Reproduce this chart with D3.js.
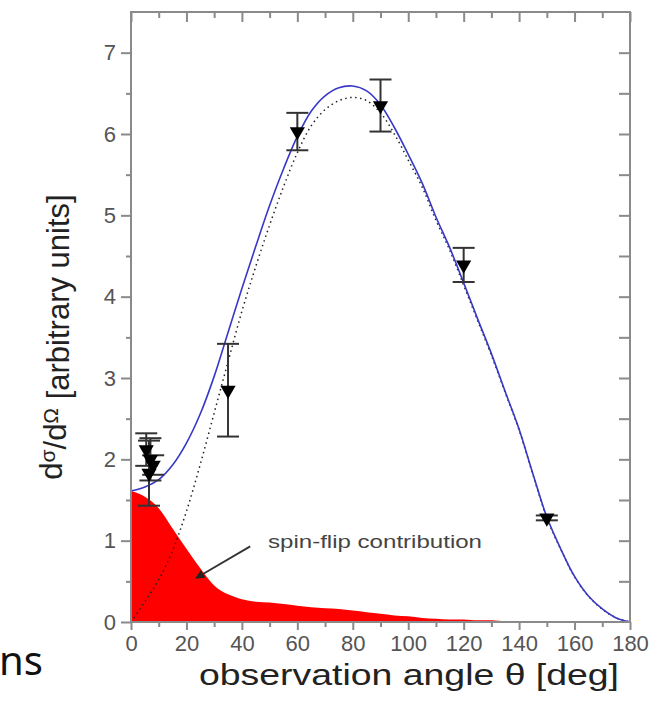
<!DOCTYPE html>
<html>
<head>
<meta charset="utf-8">
<script src="https://cdn.jsdelivr.net/npm/d3@7"></script>
<style>
  html, body { margin: 0; padding: 0; background: #fff; }
  svg { display: block; }
  text { font-family: "Liberation Sans", Arial, sans-serif; }
</style>
</head>
<body>
<svg id="chart" width="662" height="701"></svg>
<script>
// Angular grid (deg) shared by the model curves
const angles = [0,5,10,15,20,25,30,35,40,45,50,55,60,65,70,75,80,85,90,95,100,105,110,115,120,125,130,135,140,145,150,155,160,165,170,175,180];

// Full calculation (solid blue)
const totalCurve = [1.61,1.66,1.75,1.93,2.2,2.56,3.02,3.56,4.1,4.62,5.12,5.57,5.97,6.28,6.47,6.57,6.59,6.53,6.36,6.08,5.75,5.4,4.98,4.6,4.17,3.73,3.3,2.83,2.37,1.82,1.29,0.9,0.56,0.32,0.16,0.05,0];

// Without spin-flip (dotted black)
const noFlipCurve = [0,0.25,0.52,0.88,1.36,1.94,2.57,3.2,3.82,4.37,4.88,5.35,5.77,6.1,6.3,6.41,6.45,6.41,6.26,6.0,5.68,5.35,4.94,4.57,4.14,3.71,3.28,2.82,2.36,1.81,1.28,0.895,0.555,0.317,0.158,0.05,0];

// Spin-flip contribution (red area)
const spinFlip = [1.61,1.54,1.4,1.15,0.9,0.66,0.45,0.34,0.28,0.25,0.24,0.22,0.2,0.18,0.17,0.16,0.14,0.12,0.1,0.08,0.07,0.05,0.04,0.03,0.03,0.02,0.02,0.01,0.01,0.01,0.01,0.005,0.005,0,0,0,0];

// Measured points: angle, value, error
const dataAngles = [5.5, 7, 8, 6.5, 35, 60, 90, 120, 150];
const dataValues = [2.12, 2.0, 1.93, 1.83, 2.85, 6.03, 6.35, 4.39, 1.28];
const dataErrors = [0.2, 0.26, 0.12, 0.4, 0.57, 0.23, 0.32, 0.21, 0.03];

const xTicks = [0,20,40,60,80,100,120,140,160,180];
const xMinor = [10,30,50,70,90,110,130,150,170];
const yTicks = [0,1,2,3,4,5,6,7];
const yMinor = [0.5,1.5,2.5,3.5,4.5,5.5,6.5];
const yRight = [0.5,1,1.5,2,2.5,3,3.5,4,4.5,5,5.5,6,6.5,7];

const svg = d3.select("#chart");
const L = 131, R = 630, T = 12, B = 622;

const x = d3.scaleLinear().domain([0, 180]).range([L, R]);
const y = d3.scaleLinear().domain([0, 7.5]).range([B, T]);

const axisColor = "#8a8a8a";

// Spin-flip area
const area = d3.area()
  .x((d, i) => x(angles[i]))
  .y0(y(0))
  .y1(d => y(d))
  .curve(d3.curveMonotoneX);
svg.append("path")
  .datum(spinFlip)
  .attr("d", area)
  .attr("fill", "#ff0000");

// Model curves
const line = d3.line()
  .x((d, i) => x(angles[i]))
  .y(d => y(d))
  .curve(d3.curveCatmullRom.alpha(0.5));

svg.append("path")
  .datum(noFlipCurve)
  .attr("d", line)
  .attr("fill", "none")
  .attr("stroke", "#222")
  .attr("stroke-width", 1.5)
  .attr("stroke-dasharray", "1.5,3.5");

svg.append("path")
  .datum(totalCurve)
  .attr("d", line)
  .attr("fill", "none")
  .attr("stroke", "#3838c8")
  .attr("stroke-width", 1.6);

// Frame
svg.append("rect")
  .attr("x", L).attr("y", T)
  .attr("width", R - L).attr("height", B - T)
  .attr("fill", "none")
  .attr("stroke", axisColor)
  .attr("stroke-width", 2);

function styleAxis(g) {
  g.select(".domain").remove();
  g.selectAll(".tick line").attr("stroke", axisColor).attr("stroke-width", 2);
  g.selectAll(".tick text")
    .attr("fill", "#555")
    .style("font-size", "22px")
    .style("font-family", "'Liberation Sans', Arial, sans-serif");
}

// Bottom axis
svg.append("g").attr("transform", `translate(0,${B})`)
  .call(d3.axisBottom(x).tickValues(xTicks).tickSize(8).tickPadding(5).tickFormat(d3.format("d")))
  .call(styleAxis);
svg.append("g").attr("transform", `translate(0,${B})`)
  .call(d3.axisBottom(x).tickValues(xMinor).tickSize(5).tickFormat(""))
  .call(styleAxis);

// Top axis (ticks point inward)
svg.append("g").attr("transform", `translate(0,${T})`)
  .call(d3.axisBottom(x).tickValues(xTicks).tickSize(10).tickFormat(""))
  .call(styleAxis);
svg.append("g").attr("transform", `translate(0,${T})`)
  .call(d3.axisBottom(x).tickValues(xMinor).tickSize(6).tickFormat(""))
  .call(styleAxis);

// Left axis
svg.append("g").attr("transform", `translate(${L},0)`)
  .call(d3.axisLeft(y).tickValues(yTicks).tickSize(10).tickPadding(5).tickFormat(d3.format("d")))
  .call(styleAxis);
svg.append("g").attr("transform", `translate(${L},0)`)
  .call(d3.axisLeft(y).tickValues(yMinor).tickSize(5).tickFormat(""))
  .call(styleAxis);

// Right axis (ticks point inward)
svg.append("g").attr("transform", `translate(${R},0)`)
  .call(d3.axisLeft(y).tickValues(yRight).tickSize(11).tickFormat(""))
  .call(styleAxis);

// Error bars
const pts = dataAngles.map((a, i) => ({ a, v: dataValues[i], e: dataErrors[i] }));
const eb = svg.append("g").attr("stroke", "#333").attr("stroke-width", 2);
pts.forEach(p => {
  eb.append("line")
    .attr("x1", x(p.a)).attr("x2", x(p.a))
    .attr("y1", y(p.v - p.e)).attr("y2", y(p.v + p.e));
  [p.v - p.e, p.v + p.e].forEach(v => {
    eb.append("line")
      .attr("x1", x(p.a) - 11).attr("x2", x(p.a) + 11)
      .attr("y1", y(v)).attr("y2", y(v));
  });
});

// Down-pointing triangle markers
const tri = d3.symbol().type(d3.symbolTriangle).size(100);
svg.append("g").selectAll("path")
  .data(pts)
  .join("path")
  .attr("d", tri)
  .attr("transform", d => `translate(${x(d.a)},${y(d.v)}) rotate(180)`)
  .attr("fill", "#000");

// Annotation with arrow
svg.append("defs").append("marker")
  .attr("id", "arrowhead")
  .attr("viewBox", "0 0 10 10")
  .attr("refX", 9).attr("refY", 5)
  .attr("markerWidth", 6).attr("markerHeight", 5)
  .attr("orient", "auto")
  .append("path").attr("d", "M0,0 L10,5 L0,10 z").attr("fill", "#222");

svg.append("line")
  .attr("x1", x(43)).attr("y1", y(0.93))
  .attr("x2", x(23.5)).attr("y2", y(0.54))
  .attr("stroke", "#333").attr("stroke-width", 1.8)
  .attr("marker-end", "url(#arrowhead)");

svg.append("text")
  .attr("x", 268).attr("y", 548)
  .attr("fill", "#444")
  .style("font-size", "18px")
  .attr("textLength", 214)
  .attr("lengthAdjust", "spacingAndGlyphs")
  .text("spin-flip contribution");

// Axis titles
svg.append("text")
  .attr("x", 199).attr("y", 685)
  .attr("fill", "#222")
  .style("font-size", "29px")
  .attr("textLength", 420)
  .attr("lengthAdjust", "spacingAndGlyphs")
  .text("observation angle θ [deg]");

const yt = svg.append("text")
  .attr("transform", "translate(62,337) rotate(-90)")
  .attr("text-anchor", "middle")
  .attr("fill", "#222")
  .style("font-size", "31px");
yt.append("tspan").text("d");
yt.append("tspan").attr("dy", "-0.35em").style("font-size", "21px").text("σ");
yt.append("tspan").attr("dy", "0.35em").text("/d");
yt.append("tspan").attr("dy", "-0.35em").style("font-size", "21px").text("Ω");
yt.append("tspan").attr("dy", "0.35em").text(" [arbitrary units]");

// Fragment of neighbouring text at the lower left
svg.append("text")
  .attr("x", -1).attr("y", 675)
  .attr("fill", "#111")
  .style("font-family", "'Noto Sans', sans-serif")
  .style("font-size", "40px")
  .text("ns");
</script>
</body>
</html>
